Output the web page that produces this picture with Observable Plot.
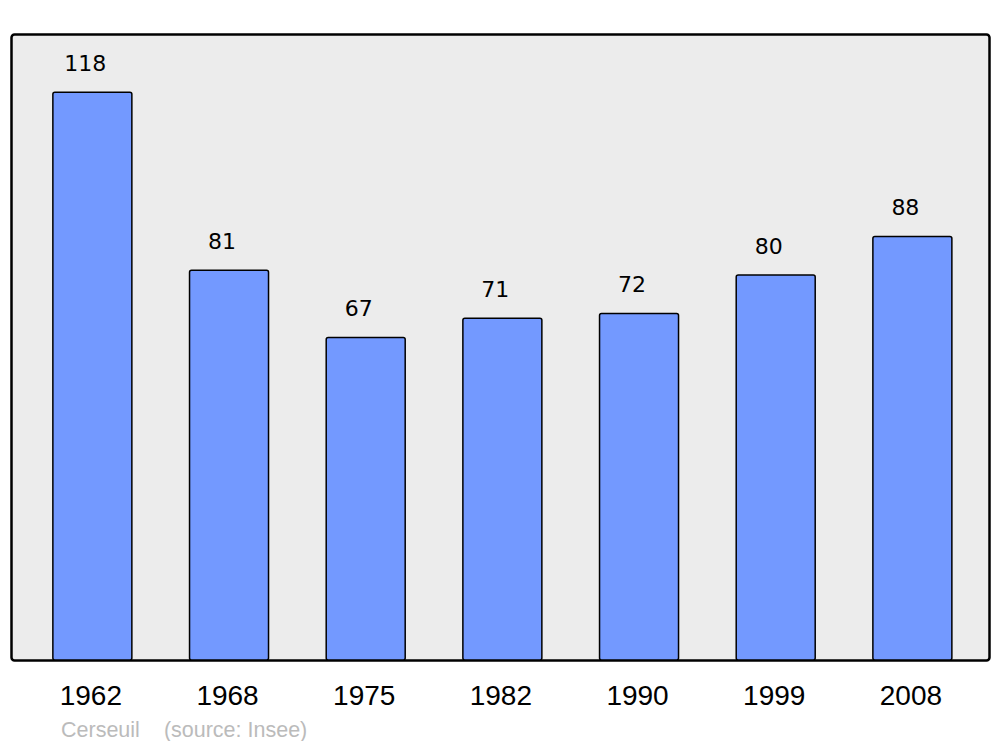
<!DOCTYPE html>
<html>
<head>
<meta charset="utf-8">
<script src="https://cdn.jsdelivr.net/npm/d3@7"></script>
<script src="https://cdn.jsdelivr.net/npm/@observablehq/plot@0.6"></script>
<style>
  body { margin: 0; background: #fff; font-family: "Liberation Sans", Arial, sans-serif; }
  #caption { margin-top: 5px; padding-left: 61px; font-size: 21.5px; line-height: 21px; color: #bbbbbb; white-space: nowrap; }
  #caption span + span { margin-left: 24px; }
</style>
</head>
<body>
<div id="chart"></div>
<div id="caption"><span>Cerseuil</span><span>(source: Insee)</span></div>
<script>
const years = ["1962", "1968", "1975", "1982", "1990", "1999", "2008"];
const population = [118, 81, 67, 71, 72, 80, 88];

const data = years.map((y, i) => ({year: y, value: population[i]}));

const chart = Plot.plot({
  width: 1000,
  height: 715,
  marginTop: 34,
  marginBottom: 55,
  marginLeft: 11,
  marginRight: 11,
  style: {fontFamily: "'Liberation Sans', Arial, sans-serif", background: "#fff", color: "#000"},
  x: {domain: years, paddingInner: 0.422, paddingOuter: 0.289, align: 0.53, round: false, label: null},
  y: {domain: [0, 130.1], axis: null},
  marks: [
    Plot.frame({fill: "#ececec", stroke: "#000", strokeWidth: 2.5, rx: 3}),
    Plot.barY(data, {x: "year", y: "value", fill: "#7399ff", stroke: "#000", strokeWidth: 1.5, rx: 2}),
    Plot.text(data, {x: "year", y: "value", text: d => String(d.value), dy: -29, dx: -7.5, lineAnchor: "middle", fontSize: 22, fontFamily: "'DejaVu Sans', sans-serif", fill: "#000"}),
    Plot.axisX({tickSize: 0, tickPadding: 25, fontSize: 28, label: null, dx: -2})
  ]
});
document.getElementById("chart").appendChild(chart);
</script>
</body>
</html>
